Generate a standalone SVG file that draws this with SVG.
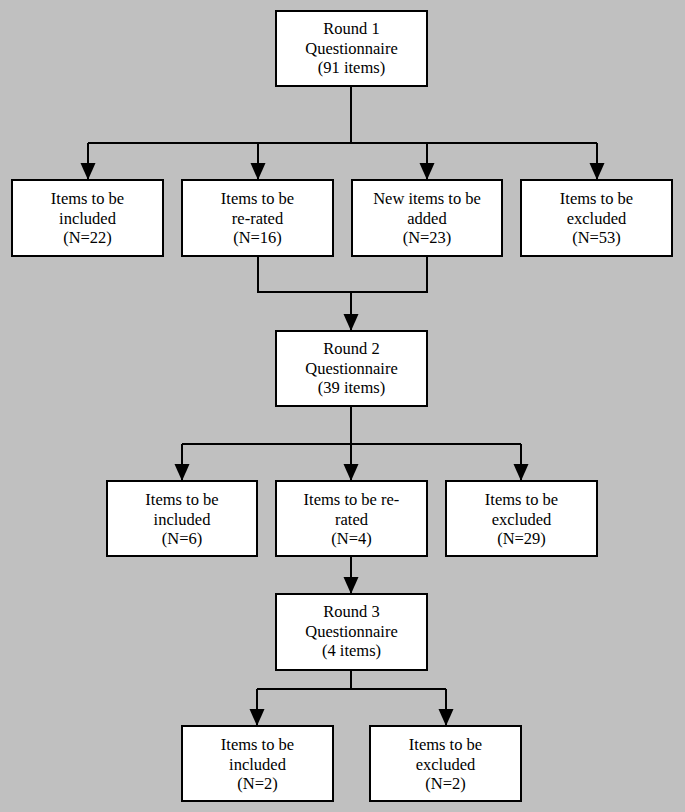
<svg xmlns="http://www.w3.org/2000/svg" width="685" height="812" viewBox="0 0 685 812">
<style>
.box{fill:#fff;stroke:#000;stroke-width:2}
.c{fill:none;stroke:#000;stroke-width:2}
</style>
<defs>
<marker id="ah" markerUnits="userSpaceOnUse" markerWidth="18" markerHeight="16" refX="17" refY="7.5" orient="auto">
<path d="M0,0 L17,7.5 L0,15 z" fill="#000"/>
</marker>
</defs>
<rect width="685" height="812" fill="#c0c0c0"/>
<g id="connectors">
<path class="c" d="M351,86 V143 M88,143 H597"/>
<path class="c" d="M88,143 V180" marker-end="url(#ah)"/>
<path class="c" d="M258,143 V180" marker-end="url(#ah)"/>
<path class="c" d="M427,143 V180" marker-end="url(#ah)"/>
<path class="c" d="M597,143 V180" marker-end="url(#ah)"/>
<path class="c" d="M258,256 V292 H427 V256"/>
<path class="c" d="M351,292 V331" marker-end="url(#ah)"/>
<path class="c" d="M351,406 V444 M182,444 H521"/>
<path class="c" d="M182,444 V481" marker-end="url(#ah)"/>
<path class="c" d="M351,444 V481" marker-end="url(#ah)"/>
<path class="c" d="M521,444 V481" marker-end="url(#ah)"/>
<path class="c" d="M351,556 V594" marker-end="url(#ah)"/>
<path class="c" d="M351,670 V689 M257,689 H446"/>
<path class="c" d="M257,689 V726" marker-end="url(#ah)"/>
<path class="c" d="M446,689 V726" marker-end="url(#ah)"/>
</g>
<g font-family="'Liberation Serif', 'Times New Roman', Times, serif" font-size="16.5" text-anchor="middle" fill="#000">
<g id="round1">
<rect class="box" x="276" y="11" width="151" height="75"/>
<text x="351.5" y="34">Round 1</text>
<text x="351.5" y="54">Questionnaire</text>
<text x="351.5" y="73">(91 items)</text>
</g>
<g id="r1-included">
<rect class="box" x="12" y="180" width="151" height="76"/>
<text x="87.5" y="204">Items to be</text>
<text x="87.5" y="224">included</text>
<text x="87.5" y="243">(N=22)</text>
</g>
<g id="r1-rerated">
<rect class="box" x="182" y="180" width="151" height="76"/>
<text x="257.5" y="204">Items to be</text>
<text x="257.5" y="224">re-rated</text>
<text x="257.5" y="243">(N=16)</text>
</g>
<g id="r1-new">
<rect class="box" x="352" y="180" width="150" height="76"/>
<text x="427" y="204">New items to be</text>
<text x="427" y="224">added</text>
<text x="427" y="243">(N=23)</text>
</g>
<g id="r1-excluded">
<rect class="box" x="521" y="180" width="151" height="76"/>
<text x="596.5" y="204">Items to be</text>
<text x="596.5" y="224">excluded</text>
<text x="596.5" y="243">(N=53)</text>
</g>
<g id="round2">
<rect class="box" x="276" y="331" width="151" height="75"/>
<text x="351.5" y="354">Round 2</text>
<text x="351.5" y="374">Questionnaire</text>
<text x="351.5" y="393">(39 items)</text>
</g>
<g id="r2-included">
<rect class="box" x="107" y="481" width="150" height="75"/>
<text x="182" y="505">Items to be</text>
<text x="182" y="525">included</text>
<text x="182" y="544">(N=6)</text>
</g>
<g id="r2-rerated">
<rect class="box" x="276" y="481" width="151" height="75"/>
<text x="351.5" y="505">Items to be re-</text>
<text x="351.5" y="525">rated</text>
<text x="351.5" y="544">(N=4)</text>
</g>
<g id="r2-excluded">
<rect class="box" x="446" y="481" width="151" height="75"/>
<text x="521.5" y="505">Items to be</text>
<text x="521.5" y="525">excluded</text>
<text x="521.5" y="544">(N=29)</text>
</g>
<g id="round3">
<rect class="box" x="276" y="594" width="151" height="76"/>
<text x="351.5" y="617">Round 3</text>
<text x="351.5" y="637">Questionnaire</text>
<text x="351.5" y="656">(4 items)</text>
</g>
<g id="r3-included">
<rect class="box" x="182" y="726" width="151" height="75"/>
<text x="257.5" y="750">Items to be</text>
<text x="257.5" y="770">included</text>
<text x="257.5" y="789">(N=2)</text>
</g>
<g id="r3-excluded">
<rect class="box" x="370" y="726" width="151" height="75"/>
<text x="445.5" y="750">Items to be</text>
<text x="445.5" y="770">excluded</text>
<text x="445.5" y="789">(N=2)</text>
</g>
</g>
</svg>
